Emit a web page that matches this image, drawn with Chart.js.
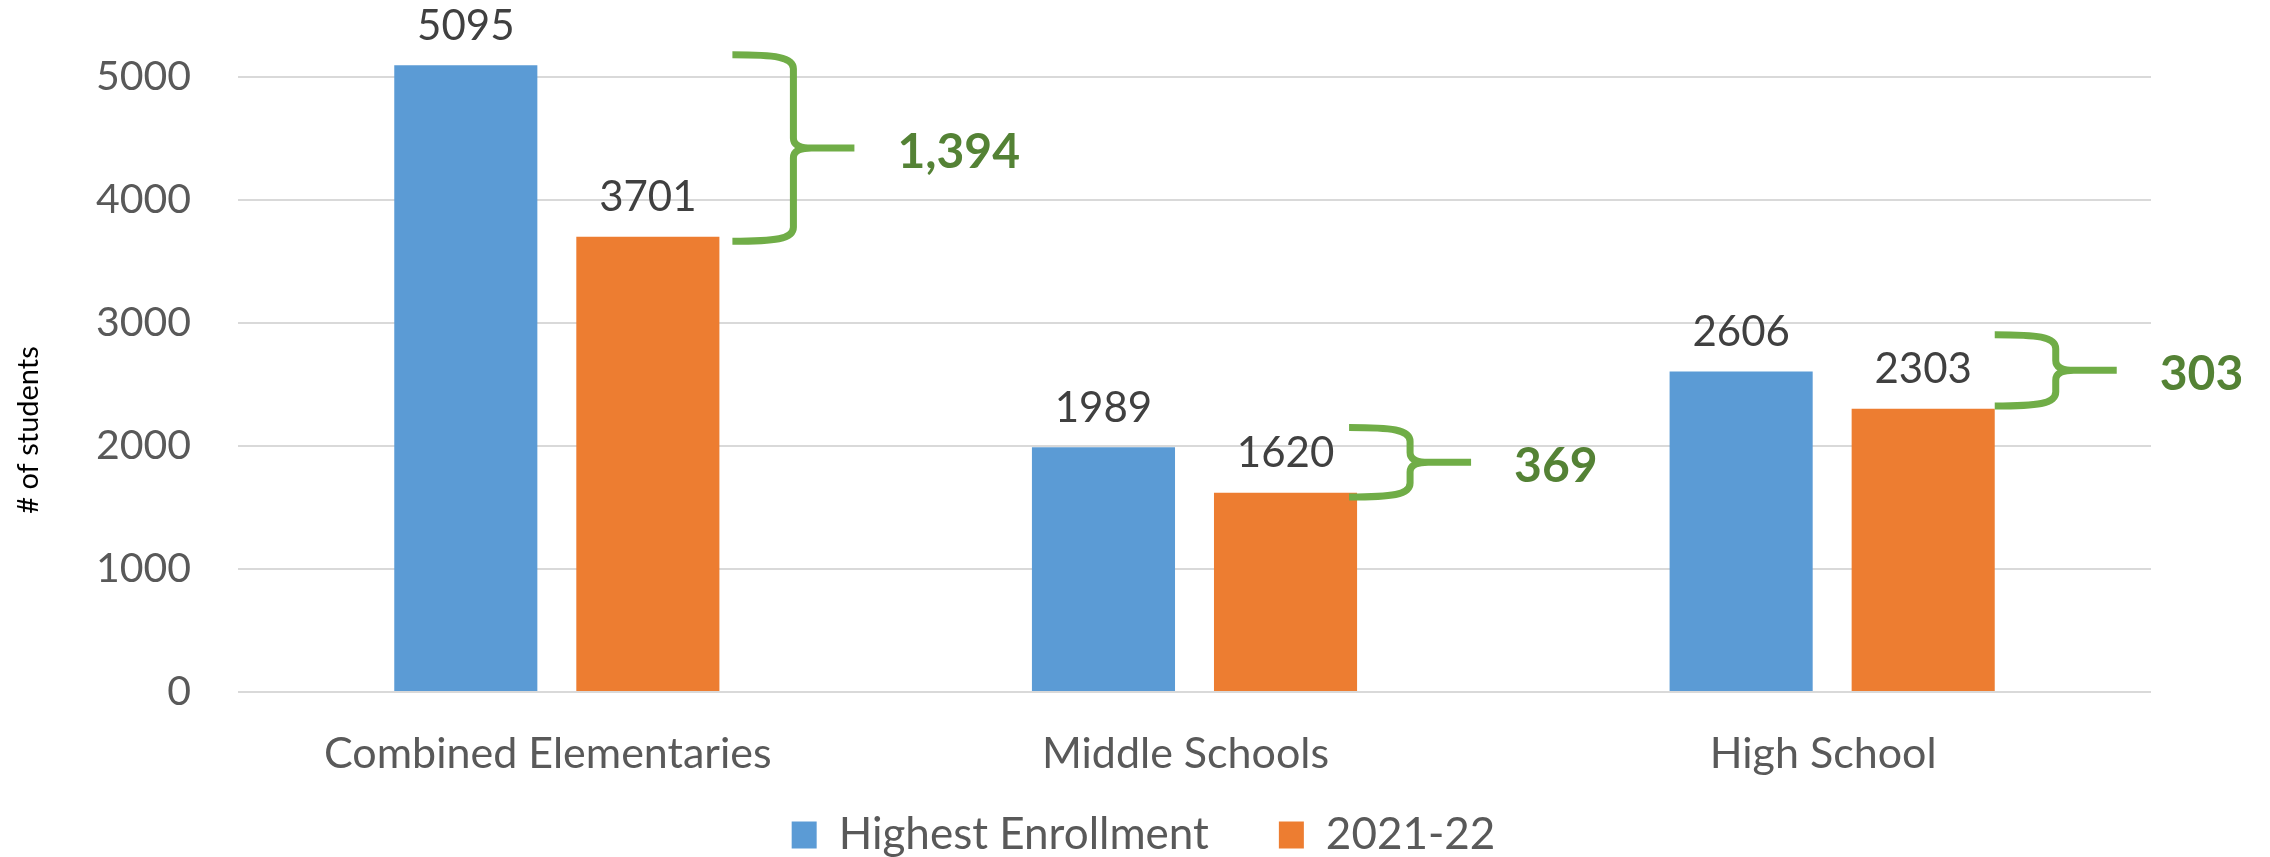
<!DOCTYPE html>
<html><head><meta charset="utf-8">
<script src="https://cdn.jsdelivr.net/npm/chart.js@4.4.1/dist/chart.umd.min.js"></script>
<style>html,body{margin:0;padding:0;background:#fff}#wrap{width:2270px;height:857px}</style>
</head><body><div id="wrap"><canvas id="c" width="2270" height="857"></canvas></div>
<script>
// ---- data ----
const categories = ['Combined Elementaries', 'Middle Schools', 'High School'];
const seriesNames = ['Highest Enrollment', '2021-22'];
const highestEnrollment = [5095, 1989, 2606];
const enrollment2021 = [3701, 1620, 2303];
const yTicks = [0, 1000, 2000, 3000, 4000, 5000];
const gapLabels = ['1,394', '369', '303'];
const braceTop = [5180, 2150, 2905];
const braceBottom = [3665, 1585, 2325];
const yTitle = '# of students';

// ---- styles ----
const FONT = 'Lato';
const braceGap = [13, -8, 0];

const valueLabels = {
  id: 'valueLabels',
  afterDatasetsDraw(chart) {
    const ctx = chart.ctx;
    ctx.save();
    ctx.font = `42px ${FONT}`;
    ctx.fillStyle = '#404040';
    ctx.textAlign = 'center';
    ctx.textBaseline = 'middle';
    chart.data.datasets.forEach((ds, di) => {
      chart.getDatasetMeta(di).data.forEach((bar, i) => {
        ctx.fillText(String(ds.data[i]), bar.x, bar.y - 39);
      });
    });
    ctx.restore();
  }
};

const braces = {
  id: 'braces',
  afterDatasetsDraw(chart) {
    const ctx = chart.ctx;
    const y = chart.scales.y;
    const meta = chart.getDatasetMeta(1);
    ctx.save();
    meta.data.forEach((bar, i) => {
      const L = bar.x + bar.width / 2 + braceGap[i];
      const top = y.getPixelForValue(braceTop[i]);
      const bot = y.getPixelForValue(braceBottom[i]);
      const mid = (top + bot) / 2;
      const w = 61;
      const r = Math.min(14, (bot - top) / 4);
      ctx.strokeStyle = '#70AD47';
      ctx.lineWidth = 7;
      ctx.lineJoin = 'round';
      ctx.beginPath();
      ctx.moveTo(L, top);
      ctx.bezierCurveTo(L + w * 0.7, top, L + w, top + 2, L + w, top + r);
      ctx.lineTo(L + w, mid - r * 0.7);
      ctx.quadraticCurveTo(L + w, mid, L + w + 18, mid);
      ctx.lineTo(L + 2 * w, mid);
      ctx.moveTo(L + w + 18, mid);
      ctx.quadraticCurveTo(L + w, mid, L + w, mid + r * 0.7);
      ctx.lineTo(L + w, bot - r);
      ctx.bezierCurveTo(L + w, bot - 2, L + w * 0.7, bot, L, bot);
      ctx.stroke();
      ctx.font = `bold 48px ${FONT}`;
      ctx.fillStyle = '#548235';
      ctx.textAlign = 'left';
      ctx.textBaseline = 'middle';
      ctx.fillText(gapLabels[i], L + 2 * w + 43, mid + 4);
    });
    ctx.restore();
  }
};

const yTitlePlugin = {
  id: 'yTitle',
  afterDraw(chart) {
    const ctx = chart.ctx;
    ctx.save();
    ctx.translate(29, 430);
    ctx.rotate(-Math.PI / 2);
    ctx.font = `29px ${FONT}`;
    ctx.fillStyle = '#000000';
    ctx.textAlign = 'center';
    ctx.textBaseline = 'middle';
    ctx.fillText(yTitle, 0, 0);
    ctx.restore();
  }
};

// place the legend row like the reference (centred under the plot, below the category labels)
const legendPlace = {
  id: 'legendPlace',
  afterLayout(chart) {
    if (chart.legend) {
      chart.legend.left = 136;
      chart.legend.top = 743;
    }
  }
};

new Chart(document.getElementById('c'), {
  type: 'bar',
  data: {
    labels: categories,
    datasets: [
      { label: seriesNames[0], data: highestEnrollment, backgroundColor: '#5B9BD5', clip: false,
        categoryPercentage: 0.571, barPercentage: 0.786 },
      { label: seriesNames[1], data: enrollment2021, backgroundColor: '#ED7D31', clip: false,
        categoryPercentage: 0.571, barPercentage: 0.786 }
    ]
  },
  options: {
    responsive: false,
    animation: false,
    devicePixelRatio: 1,
    layout: { padding: { left: 0, right: 119, top: 77, bottom: -49 } },
    plugins: {
      tooltip: { enabled: false },
      legend: {
        position: 'bottom',
        labels: {
          font: { family: FONT, size: 44 },
          color: '#595959',
          boxWidth: 25,
          boxHeight: 27,
          padding: 70
        }
      }
    },
    scales: {
      x: {
        afterFit: s => { s.height = 90; },
        grid: { display: false, drawTicks: false },
        border: { display: false },
        ticks: { font: { family: FONT, size: 43 }, color: '#595959', padding: 36, labelOffset: -9 }
      },
      y: {
        min: 0,
        max: 5000,
        afterBuildTicks: s => { s.ticks = yTicks.map(v => ({ value: v })); },
        afterFit: s => { s.width = 238; },
        grid: { color: '#d9d9d9', lineWidth: 2, drawTicks: false },
        border: { display: false },
        ticks: { font: { family: FONT, size: 41 }, color: '#595959', padding: 47,
                 callback: v => String(v) }
      }
    }
  },
  plugins: [valueLabels, braces, yTitlePlugin, legendPlace]
});
</script>
</body></html>
